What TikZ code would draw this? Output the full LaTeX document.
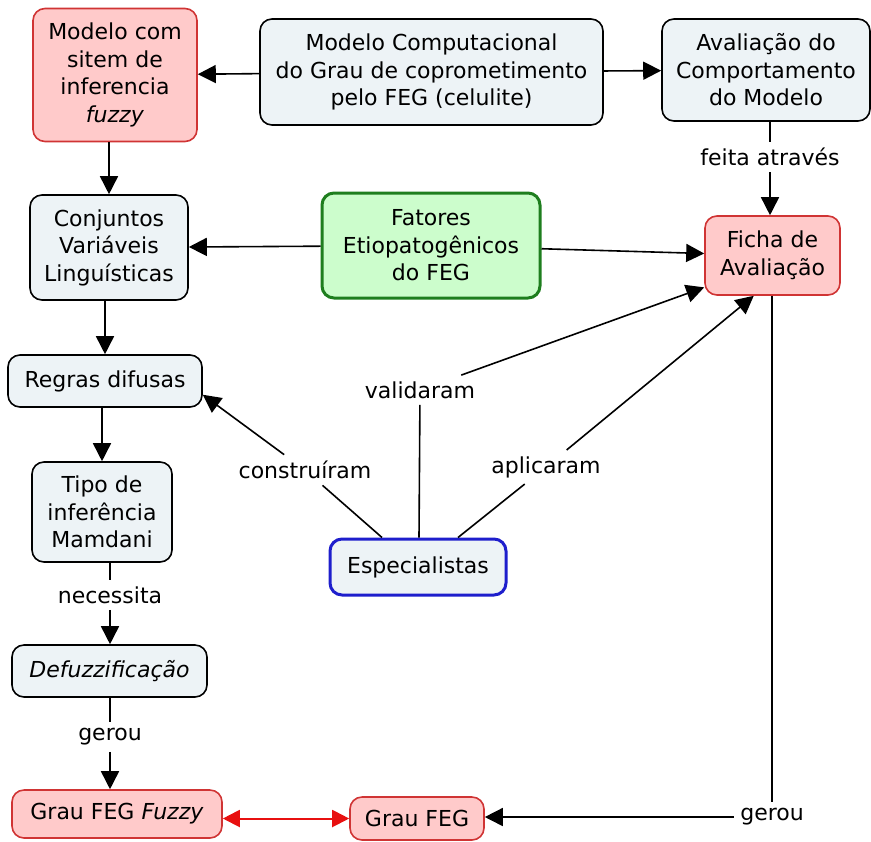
\documentclass[tikz,border=0pt]{standalone}
\usepackage{fontspec}
\setmainfont{DejaVu Sans}
\usetikzlibrary{arrows.meta, positioning}
\definecolor{conceptFill}{HTML}{EDF3F6}
\definecolor{redFill}{HTML}{FFCACA}
\definecolor{redLine}{HTML}{D03434}
\definecolor{redArrow}{HTML}{E81010}
\definecolor{greenFill}{HTML}{CCFDCC}
\definecolor{greenLine}{HTML}{1E7E1E}
\definecolor{blueLine}{HTML}{1E1ECC}

\begin{document}
\begin{tikzpicture}[
    x=0.5pt, y=-0.5pt,
    % ── shared styles ───────────────────────────────────────────────
    concept/.style={
        rectangle, rounded corners=6pt,
        fill=conceptFill, draw=black, line width=0.8pt,
        font=\fontsize{11}{13.75}\selectfont, text=black,
        inner sep=0pt, align=center,
    },
    red concept/.style={
        concept, fill=redFill, draw=redLine,
    },
    green concept/.style={
        concept, fill=greenFill, draw=greenLine, line width=1.5pt,
    },
    blue concept/.style={
        concept, draw=blueLine, line width=1.5pt,
    },
    link/.style={
        font=\fontsize{11}{13.75}\selectfont, text=black,
        inner sep=3pt, fill=white,
    },
    conn/.style={
        black, line width=0.8pt,
    },
    conn arrow/.style={
        conn, -{Triangle[length=9pt,width=9pt]},
    },
    conn both/.style={
        redArrow, line width=1pt,
        {Triangle[length=8.5pt,width=8.5pt]}-{Triangle[length=8.5pt,width=8.5pt]},
    },
]
\useasboundingbox (0,0) rectangle (871,841);

% =============================================================
%  TOP ROW
% =============================================================
\node[red concept, minimum width=82pt, minimum height=66.5pt] (sif) at (115,75)
    {Modelo com\\sitem de\\inferencia\\\textit{fuzzy}};
\node[concept, minimum width=171.5pt, minimum height=53pt] (modelo) at (431.5,72)
    {Modelo Computacional\\do Grau de coprometimento\\pelo FEG (celulite)};
\node[concept, minimum width=104pt, minimum height=51pt] (aval) at (766,70)
    {Avalia\c{c}\~ao do\\Comportamento\\do Modelo};

% =============================================================
%  MIDDLE
% =============================================================
\node[concept, minimum width=79pt, minimum height=52.5pt] (conj) at (109,247.5)
    {Conjuntos\\Vari\'aveis\\Lingu\'isticas};
\node[green concept, minimum width=109pt, minimum height=52.5pt] (fatores) at (431,245.5)
    {Fatores\\Etiopatog\^enicos\\do FEG};
\node[red concept, minimum width=67.5pt, minimum height=39.5pt] (ficha) at (772.5,255.5)
    {Ficha de\\Avalia\c{c}\~ao};
\node[concept, minimum width=97pt, minimum height=26pt] (regras) at (105,381)
    {Regras difusas};
\node[concept, minimum width=70pt, minimum height=50pt] (mamdani) at (102,512)
    {Tipo de\\infer\^encia\\Mamdani};
\node[blue concept, minimum width=88pt, minimum height=28pt] (espec) at (418,567)
    {Especialistas};

% =============================================================
%  BOTTOM
% =============================================================
\node[concept, minimum width=97.5pt, minimum height=26pt] (defuz) at (109.5,671)
    {\textit{Defuzzifica\c{c}\~ao}};
\node[red concept, minimum width=105pt, minimum height=24pt] (grauFuzzy) at (117,814)
    {Grau FEG \textit{Fuzzy}};
\node[red concept, minimum width=67pt, minimum height=21.5pt] (grau) at (417,818.5)
    {Grau FEG};

% Link labels
\node[link] (lFeita) at (770,157) {feita atrav\'es};
\node[link] (lNecessita) at (110,595) {necessita};
\node[link] (lGerouA) at (110,737) {gerou};
\node[link] (lGerouB) at (772,817) {gerou};
\node[link] (lValidaram) at (420,390) {validaram};
\node[link] (lConstruiram) at (305,470) {constru\'iram};
\node[link] (lAplicaram) at (546,467) {aplicaram};

% Connection lines
\draw[conn arrow] (modelo) -- (sif);
\draw[conn arrow] (modelo) -- (aval);
\draw[conn arrow] (sif.south -| conj.north) -- (conj.north);
\draw[conn arrow] (conj.south -| regras.north) -- (regras.north);
\draw[conn arrow] (regras.south -| mamdani.north) -- (mamdani.north);
\draw[conn arrow] (fatores) -- (conj);
\draw[conn arrow] (fatores) -- (ficha);

\draw[conn] (aval.south -| lFeita) -- (lFeita);
\draw[conn arrow] (lFeita) -- (ficha.north -| lFeita);

\draw[conn] (mamdani.south -| lNecessita) -- (lNecessita);
\draw[conn arrow] (lNecessita) -- (defuz.north -| lNecessita);

\draw[conn] (defuz.south -| lGerouA) -- (lGerouA);
\draw[conn arrow] (lGerouA) -- (grauFuzzy.north -| lGerouA);

\draw[conn] (ficha.south -| lGerouB) -- (lGerouB);
\draw[conn arrow] (lGerouB) -- (grau.east |- lGerouB);

\draw[conn] ([xshift=-18pt]espec.north) -- (lConstruiram);
\draw[conn arrow] (lConstruiram) -- (regras.-8);
\draw[conn] ([xshift=0.5pt]espec.north) -- (lValidaram);
\draw[conn arrow] (lValidaram) -- (ficha.205);
\draw[conn] ([xshift=20pt]espec.north) -- (lAplicaram);
\draw[conn arrow] (lAplicaram) -- (ficha.245);

\draw[conn both] (grauFuzzy.east |- grau.west) -- (grau.west);

\end{tikzpicture}
\end{document}
